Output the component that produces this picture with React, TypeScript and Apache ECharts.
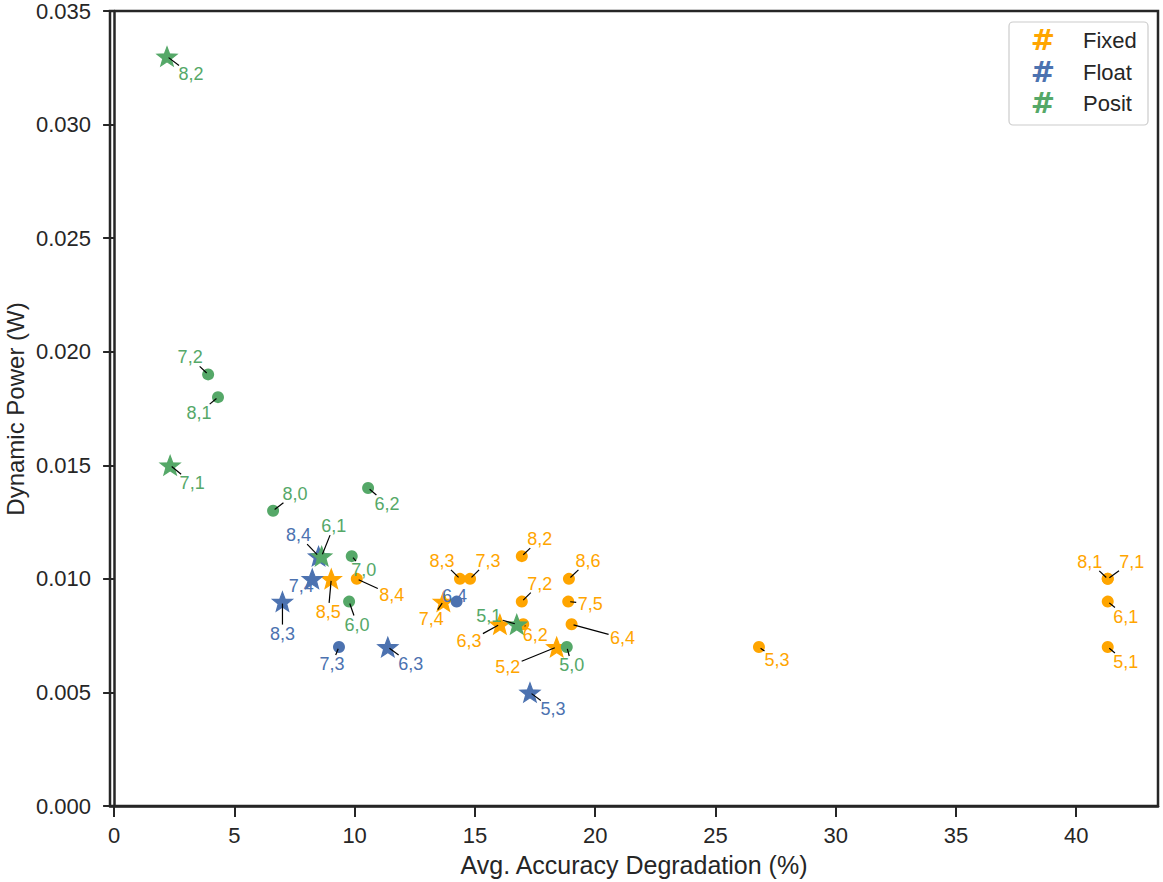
import React, { useEffect, useRef } from "react";
import * as echarts from "echarts";

const FONT = "'Liberation Sans', Arial, Helvetica, sans-serif";
const INK = "#262626";

const COLORS = { Fixed: "#FFA500", Float: "#4C72B0", Posit: "#55A868" };

// Fixed-point configurations
const fixedTags = ["8,5", "8,4", "7,4", "8,3", "7,3", "8,2", "7,2", "6,3", "6,2", "5,2", "8,6", "7,5", "6,4", "5,3", "8,1", "7,1", "6,1", "5,1"];
const fixedAcc = [9.03, 10.09, 13.69, 14.38, 14.8, 16.95, 16.95, 16.04, 17.01, 18.4, 18.91, 18.88, 19.02, 26.81, 41.31, 41.31, 41.31, 41.31];
const fixedPower = [0.01, 0.01, 0.009, 0.01, 0.01, 0.011, 0.009, 0.008, 0.008, 0.007, 0.01, 0.009, 0.008, 0.007, 0.01, 0.01, 0.009, 0.007];
const fixedShape = ["star", "circle", "star", "circle", "circle", "circle", "circle", "star", "circle", "star", "circle", "circle", "circle", "circle", "circle", "circle", "circle", "circle"];

// Floating-point configurations
const floatTags = ["8,4", "7,4", "8,3", "7,3", "6,3", "6,4", "5,3"];
const floatAcc = [8.5, 8.24, 7.0, 9.35, 11.38, 14.24, 17.29];
const floatPower = [0.011, 0.01, 0.009, 0.007, 0.007, 0.009, 0.005];
const floatShape = ["star", "star", "star", "circle", "star", "circle", "star"];

// Posit configurations
const positTags = ["8,2", "7,2", "8,1", "7,1", "8,0", "6,2", "6,1", "7,0", "6,0", "5,1", "5,0"];
const positAcc = [2.2, 3.91, 4.32, 2.33, 6.61, 10.56, 8.63, 9.88, 9.77, 16.74, 18.82];
const positPower = [0.033, 0.019, 0.018, 0.015, 0.013, 0.014, 0.011, 0.011, 0.009, 0.008, 0.007];
const positShape = ["star", "circle", "circle", "star", "circle", "circle", "star", "circle", "circle", "star", "circle"];

// Annotation placement (pixel shift of each label from its point)
const fixedShift = [[-3, 33], [35, 16], [-12, 17], [-18, -18], [18, -18], [18, -17], [18, -18], [-31, 17], [12, 11], [-49, 20], [19, -18], [22, 2], [51, 14], [18, 13], [-18, -17], [24, -17], [18, 15], [18, 15]];
const floatShift = [[-20, -21], [-11, 7], [0, 32], [-7, 17], [23, 17], [-2, -6], [23, 17]];
const positShift = [[24, 18], [-18, -17], [-19, 16], [22, 18], [22, -17], [19, 16], [12, -30], [12, 14], [8, 23], [-28, -8], [5, 18]];

const xTicks = [0, 5, 10, 15, 20, 25, 30, 35, 40];

// five-pointed star outline
const STAR = (() => {
  const pts: string[] = [];
  for (let k = 0; k < 10; k++) {
    const r = k % 2 === 0 ? 1 : 0.42;
    const a = -Math.PI / 2 + (k * Math.PI) / 5;
    pts.push(`${(r * Math.cos(a)).toFixed(4)} ${(r * Math.sin(a)).toFixed(4)}`);
  }
  return "path://M" + pts.join(" L") + " Z";
})();

function markerSeries(name: string, xs: number[], ys: number[], shapes: string[], z: number) {
  const color = (COLORS as any)[name];
  return {
    type: "scatter",
    name,
    z,
    data: xs.map((x, i) => ({
      value: [x, ys[i]],
      symbol: shapes[i] === "star" ? STAR : "circle",
      symbolSize: shapes[i] === "star" ? [20, 19] : 12,
      itemStyle:
        shapes[i] === "star"
          ? { color, borderColor: color, borderWidth: 1.2, borderJoin: "miter" }
          : { color },
    })),
    itemStyle: { color, opacity: 1 },
  };
}

function labelSeries(name: string, xs: number[], ys: number[], tags: string[], shifts: number[][]) {
  const color = (COLORS as any)[name];
  return {
    type: "custom",
    name: name + " labels",
    coordinateSystem: "cartesian2d",
    silent: true,
    z: 10,
    clip: false,
    encode: { x: 0, y: 1 },
    data: xs.map((x, i) => [x, ys[i]]),
    renderItem: (params: any, api: any) => {
      const i = params.dataIndex;
      const p = api.coord([api.value(0), api.value(1)]);
      const [dx, dy] = shifts[i];
      const lx = p[0] + dx;
      const ly = p[1] + dy;
      const hw = 14;
      const hh = 9;
      const t = Math.min(dx ? hw / Math.abs(dx) : Infinity, dy ? hh / Math.abs(dy) : Infinity);
      const children: any[] = [];
      if (t < 1) {
        const len = Math.hypot(dx, dy);
        const s = 2 / len;
        children.push({
          type: "line",
          shape: { x1: p[0] + dx * s, y1: p[1] + dy * s, x2: lx - dx * t, y2: ly - dy * t },
          style: { stroke: "#000", lineWidth: 1.2 },
        });
      }
      children.push({
        type: "text",
        x: lx,
        y: ly,
        style: {
          text: tags[i],
          fill: color,
          font: `18px ${FONT}`,
          align: "center",
          verticalAlign: "middle",
        },
      });
      return { type: "group", children };
    },
  };
}

function legendGraphic() {
  const rows = [
    { name: "Fixed", y: 40 },
    { name: "Float", y: 72 },
    { name: "Posit", y: 103 },
  ];
  const items: any[] = [
    {
      type: "rect",
      shape: { x: 1009, y: 22, width: 139, height: 103, r: 4 },
      style: { fill: "rgba(255,255,255,0.85)", stroke: "#cccccc", lineWidth: 1.2 },
      z: 100,
    },
  ];
  rows.forEach((r) => {
    items.push({
      type: "text",
      x: 1043,
      y: r.y,
      z: 101,
      style: {
        text: "#",
        font: "bold 29px 'DejaVu Sans', sans-serif",
        fill: (COLORS as any)[r.name],
        align: "center",
        verticalAlign: "middle",
      },
    });
    items.push({
      type: "text",
      x: 1083,
      y: r.y,
      z: 101,
      style: { text: r.name, font: `22px ${FONT}`, fill: INK, align: "left", verticalAlign: "middle" },
    });
  });
  return items;
}

export default function App() {
  const ref = useRef<HTMLDivElement>(null);

  useEffect(() => {
    if (!ref.current) return;
    const chart = echarts.init(ref.current, undefined, { renderer: "svg" });
    chart.setOption({
      animation: false,
      backgroundColor: "#ffffff",
      grid: {
        left: 110,
        right: 5,
        top: 10,
        bottom: 76,
        show: true,
        borderColor: INK,
        borderWidth: 2.5,
        backgroundColor: "transparent",
      },
      xAxis: {
        type: "value",
        min: -0.17,
        max: 43.4,
        splitLine: { show: false },
        axisLine: { show: true, lineStyle: { color: INK, width: 2.5 } },
        axisTick: { show: true, length: 11, customValues: xTicks, lineStyle: { color: INK, width: 2 } },
        axisLabel: { customValues: xTicks, color: INK, fontSize: 22, fontFamily: FONT, margin: 18 },
      },
      yAxis: {
        type: "value",
        min: 0,
        max: 0.035,
        interval: 0.005,
        splitLine: { show: false },
        axisLine: { show: true, lineStyle: { color: INK, width: 2.5 } },
        axisTick: { show: true, length: 11, lineStyle: { color: INK, width: 2 } },
        axisLabel: {
          color: INK,
          fontSize: 22,
          fontFamily: FONT,
          margin: 19,
          formatter: (v: number) => v.toFixed(3),
        },
      },
      graphic: [
        {
          type: "text",
          x: 634,
          y: 865,
          style: {
            text: "Avg. Accuracy Degradation (%)",
            font: `25px ${FONT}`,
            fill: INK,
            align: "center",
            verticalAlign: "middle",
          },
        },
        {
          type: "text",
          x: 15,
          y: 409,
          rotation: Math.PI / 2,
          style: {
            text: "Dynamic Power (W)",
            font: `24px ${FONT}`,
            fill: INK,
            align: "center",
            verticalAlign: "middle",
          },
        },
        ...legendGraphic(),
      ],
      series: [
        markerSeries("Fixed", fixedAcc, fixedPower, fixedShape, 2),
        markerSeries("Float", floatAcc, floatPower, floatShape, 3),
        markerSeries("Posit", positAcc, positPower, positShape, 4),
        labelSeries("Fixed", fixedAcc, fixedPower, fixedTags, fixedShift),
        labelSeries("Float", floatAcc, floatPower, floatTags, floatShift),
        labelSeries("Posit", positAcc, positPower, positTags, positShift),
      ],
    });
    return () => chart.dispose();
  }, []);

  return (
    <div
      ref={ref}
      style={{ position: "absolute", left: 0, top: 0, width: 1163, height: 882, background: "#fff" }}
    />
  );
}
